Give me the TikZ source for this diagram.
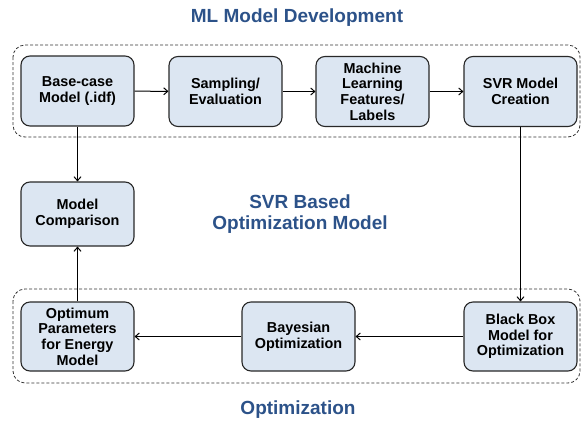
\documentclass[tikz,border=0pt]{standalone}
\usepackage{fontspec}
\setmainfont{Liberation Sans}
\usetikzlibrary{arrows.meta}
\definecolor{boxfill}{RGB}{220,230,242}
\definecolor{boxline}{RGB}{40,40,40}
\definecolor{titleblue}{RGB}{44,82,137}
\tikzset{
  procbox/.style={draw=boxline, fill=boxfill, line width=1.1pt, rounded corners=9pt,
    minimum width=113pt, minimum height=70pt, inner sep=0pt, align=center,
    font=\fontsize{14.4}{15.6}\selectfont\bfseries},
  groupbox/.style={draw=black!80, line width=0.8pt, dash pattern=on 3pt off 2pt, rounded corners=12pt},
  titletext/.style={text=titleblue, align=center, font=\fontsize{19}{21.7}\selectfont\bfseries},
  conn/.style={line width=1pt, -{Straight Barb[length=4pt,width=7pt]}}
}
\begin{document}
\begin{tikzpicture}[x=1pt,y=-1pt]
\useasboundingbox (0,0) rectangle (581,421);
\draw[groupbox] (13,45) rectangle (580,137);
\draw[groupbox] (13,289) rectangle (580,383);

\node[titletext] (t1) at (297,18) {ML Model Development};
\node[titletext] (t2) at (300,214) {SVR Based\\Optimization Model};
\node[titletext] (t3) at (298,410) {Optimization};

\node[procbox] (base) at (77.5,91) {Base-case\\Model (.idf)};
\node[procbox] (samp) at (225.5,91.5) {Sampling/\\Evaluation};
\node[procbox] (ml) at (372.5,91.5) {Machine\\Learning\\Features/\\Labels};
\node[procbox] (svr) at (520.5,91.5) {SVR Model\\Creation};
\node[procbox, minimum height=64pt] (cmp) at (77.5,214) {Model\\Comparison};
\node[procbox, minimum height=69pt] (opt) at (77.5,336.5) {Optimum\\Parameters\\for Energy\\Model};
\node[procbox, minimum height=69pt] (bay) at (298.5,336.5) {Bayesian\\Optimization};
\node[procbox, minimum height=69pt] (bb) at (520.5,336.5) {Black Box\\Model for\\Optimization};

\draw[conn] (base) -- (samp);
\draw[conn] (samp) -- (ml);
\draw[conn] (ml) -- (svr);
\draw[conn] (base) -- (cmp);
\draw[conn] (svr) -- (bb);
\draw[conn] (bb) -- (bay);
\draw[conn] (bay) -- (opt);
\draw[conn] (opt) -- (cmp);
\end{tikzpicture}
\end{document}
